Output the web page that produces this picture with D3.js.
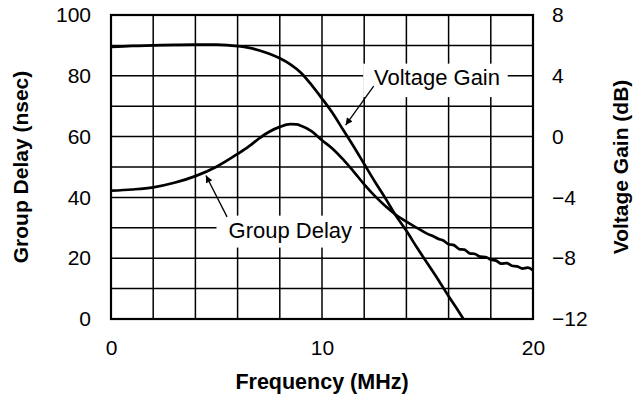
<!DOCTYPE html>
<html>
<head>
<meta charset="utf-8">
<script src="https://cdn.jsdelivr.net/npm/d3@7"></script>
<style>
  body { margin: 0; background: #fff; }
  text { font-family: "Liberation Sans", Arial, Helvetica, sans-serif; fill: #000; }
</style>
</head>
<body>
<div id="chart"></div>
<script>
// frequency (MHz) and voltage gain (dB)
const gainFreq = [0, 1, 2, 3, 4, 5, 5.5, 6, 6.5, 7, 7.5, 8, 8.5, 9, 9.5, 10, 10.5, 11, 11.5, 12, 12.5, 13, 13.5, 14, 14.5, 15, 15.5, 16, 16.5, 16.75];
const gainDb = [5.9, 5.97, 6.0, 6.03, 6.05, 6.05, 6.02, 5.95, 5.85, 5.68, 5.45, 5.15, 4.75, 4.2, 3.4, 2.5, 1.55, 0.45, -0.65, -1.8, -2.95, -4.05, -5.2, -6.2, -7.3, -8.35, -9.4, -10.5, -11.55, -12.1];

// frequency (MHz) and group delay (nsec)
const delayFreq = [0, 1, 2, 3, 4, 5, 6, 6.5, 7, 7.5, 8, 8.5, 8.8, 9, 9.5, 10, 10.5, 11, 11.5, 12, 12.5, 13, 13.5, 14, 14.5,
  15, 15.25, 15.5, 15.75, 16, 16.25, 16.5, 16.75, 17, 17.25, 17.5, 17.75, 18, 18.25, 18.5, 18.75, 19, 19.25, 19.5, 19.75, 20];
const delayNs = [42.2, 42.6, 43.3, 44.8, 47, 50.1, 54.3, 56.6, 59.3, 61.6, 63.2, 64.1, 64.0, 63.6, 61.8, 58.8, 56, 52.5, 48.5, 44.3, 40.5, 37.2, 34.3, 32.0, 30.0,
  28.0, 27.3, 26.4, 25.8, 24.6, 24.3, 23.0, 22.8, 21.6, 21.4, 20.5, 20.4, 19.5, 19.2, 18.2, 18.4, 17.5, 17.3, 16.6, 16.9, 16.0];

const freqTicks = [0, 10, 20];
const delayTicks = [0, 20, 40, 60, 80, 100];
const gainTicks = [-12, -8, -4, 0, 4, 8];

const width = 633, height = 401;
const plotLeft = 111, plotRight = 533, plotTop = 15, plotBottom = 319;

const svg = d3.select('#chart').append('svg')
  .attr('width', width)
  .attr('height', height);

svg.append('rect').attr('width', width).attr('height', height).attr('fill', '#fff');

const x = d3.scaleLinear().domain([0, 20]).range([plotLeft, plotRight]);
const yL = d3.scaleLinear().domain([0, 100]).range([plotBottom, plotTop]);
const yR = d3.scaleLinear().domain([-12, 8]).range([plotBottom, plotTop]);

// grid
const grid = svg.append('g').attr('stroke', '#000').attr('stroke-width', 1.5);
grid.selectAll('.vg').data(d3.range(2, 20, 2)).enter().append('line')
  .attr('x1', d => x(d)).attr('x2', d => x(d))
  .attr('y1', plotTop).attr('y2', plotBottom);
grid.selectAll('.hg').data(d3.range(10, 100, 10)).enter().append('line')
  .attr('y1', d => yL(d)).attr('y2', d => yL(d))
  .attr('x1', plotLeft).attr('x2', plotRight);

svg.append('defs').append('clipPath').attr('id', 'clip')
  .append('rect').attr('x', plotLeft).attr('y', plotTop)
  .attr('width', plotRight - plotLeft).attr('height', plotBottom - plotTop);

// curves
const gainLine = d3.line()
  .x((d, i) => x(gainFreq[i]))
  .y(d => yR(d))
  .curve(d3.curveMonotoneX);
const delayLine = d3.line()
  .x((d, i) => x(delayFreq[i]))
  .y(d => yL(d))
  .curve(d3.curveMonotoneX);

const curves = svg.append('g').attr('clip-path', 'url(#clip)')
  .attr('fill', 'none').attr('stroke', '#000').attr('stroke-width', 2.7)
  .attr('stroke-linejoin', 'round').attr('stroke-linecap', 'round');
curves.append('path').attr('d', gainLine(gainDb));
curves.append('path').attr('d', delayLine(delayNs));

// frame
svg.append('rect')
  .attr('x', plotLeft).attr('y', plotTop)
  .attr('width', plotRight - plotLeft).attr('height', plotBottom - plotTop)
  .attr('fill', 'none').attr('stroke', '#000').attr('stroke-width', 2.2);

// labels with arrows
const labels = [
  { text: 'Voltage Gain', f: 15.45, v: 79.5, box: [11.95, 18.8, 73, 84], tail: [12.45, 76.6], tip: [11.12, 63.8] },
  { text: 'Group Delay', f: 8.5, v: 29, box: [5.0, 11.8, 23.5, 34], tail: [5.5, 33.6], tip: [4.5, 47.2] }
];

svg.append('defs').append('marker')
  .attr('id', 'arrow')
  .attr('viewBox', '0 0 10 10')
  .attr('refX', 10).attr('refY', 5)
  .attr('markerWidth', 11).attr('markerHeight', 7)
  .attr('markerUnits', 'userSpaceOnUse')
  .attr('orient', 'auto')
  .append('path').attr('d', 'M0,0L10,5L0,10Z').attr('fill', '#000');

labels.forEach(l => {
  svg.append('rect')
    .attr('x', x(l.box[0])).attr('y', yL(l.box[3]))
    .attr('width', x(l.box[1]) - x(l.box[0]))
    .attr('height', yL(l.box[2]) - yL(l.box[3]))
    .attr('fill', '#fff');
  svg.append('text')
    .attr('x', x(l.f)).attr('y', yL(l.v))
    .attr('text-anchor', 'middle')
    .attr('dominant-baseline', 'central')
    .style('font-size', '22px')
    .text(l.text);
  svg.append('line')
    .attr('x1', x(l.tail[0])).attr('y1', yL(l.tail[1]))
    .attr('x2', x(l.tip[0])).attr('y2', yL(l.tip[1]))
    .attr('stroke', '#000').attr('stroke-width', 1.3)
    .attr('marker-end', 'url(#arrow)');
});

// axes
const axisL = svg.append('g')
  .attr('transform', 'translate(' + plotLeft + ',0)')
  .call(d3.axisLeft(yL).tickValues(delayTicks).tickSize(0).tickPadding(20));
const axisR = svg.append('g')
  .attr('transform', 'translate(' + plotRight + ',0)')
  .call(d3.axisRight(yR).tickValues(gainTicks).tickSize(0).tickPadding(19));
const axisB = svg.append('g')
  .attr('transform', 'translate(0,' + plotBottom + ')')
  .call(d3.axisBottom(x).tickValues(freqTicks).tickSize(0).tickPadding(21));

[axisL, axisR, axisB].forEach(a => {
  a.select('.domain').remove();
  a.selectAll('text')
    .style('font-family', '"Liberation Sans", Arial, sans-serif')
    .style('font-size', '21px')
    .attr('fill', '#000');
});

// titles
svg.append('text')
  .attr('x', (plotLeft + plotRight) / 2).attr('y', 389)
  .attr('text-anchor', 'middle')
  .style('font-size', '21.5px').style('font-weight', 'bold')
  .text('Frequency (MHz)');

svg.append('text')
  .attr('transform', 'translate(28,' + ((plotTop + plotBottom) / 2) + ') rotate(-90)')
  .attr('text-anchor', 'middle')
  .style('font-size', '21px').style('font-weight', 'bold')
  .text('Group Delay (nsec)');

svg.append('text')
  .attr('transform', 'translate(628,' + ((plotTop + plotBottom) / 2) + ') rotate(-90)')
  .attr('text-anchor', 'middle')
  .style('font-size', '21px').style('font-weight', 'bold')
  .text('Voltage Gain (dB)');
</script>
</body>
</html>
